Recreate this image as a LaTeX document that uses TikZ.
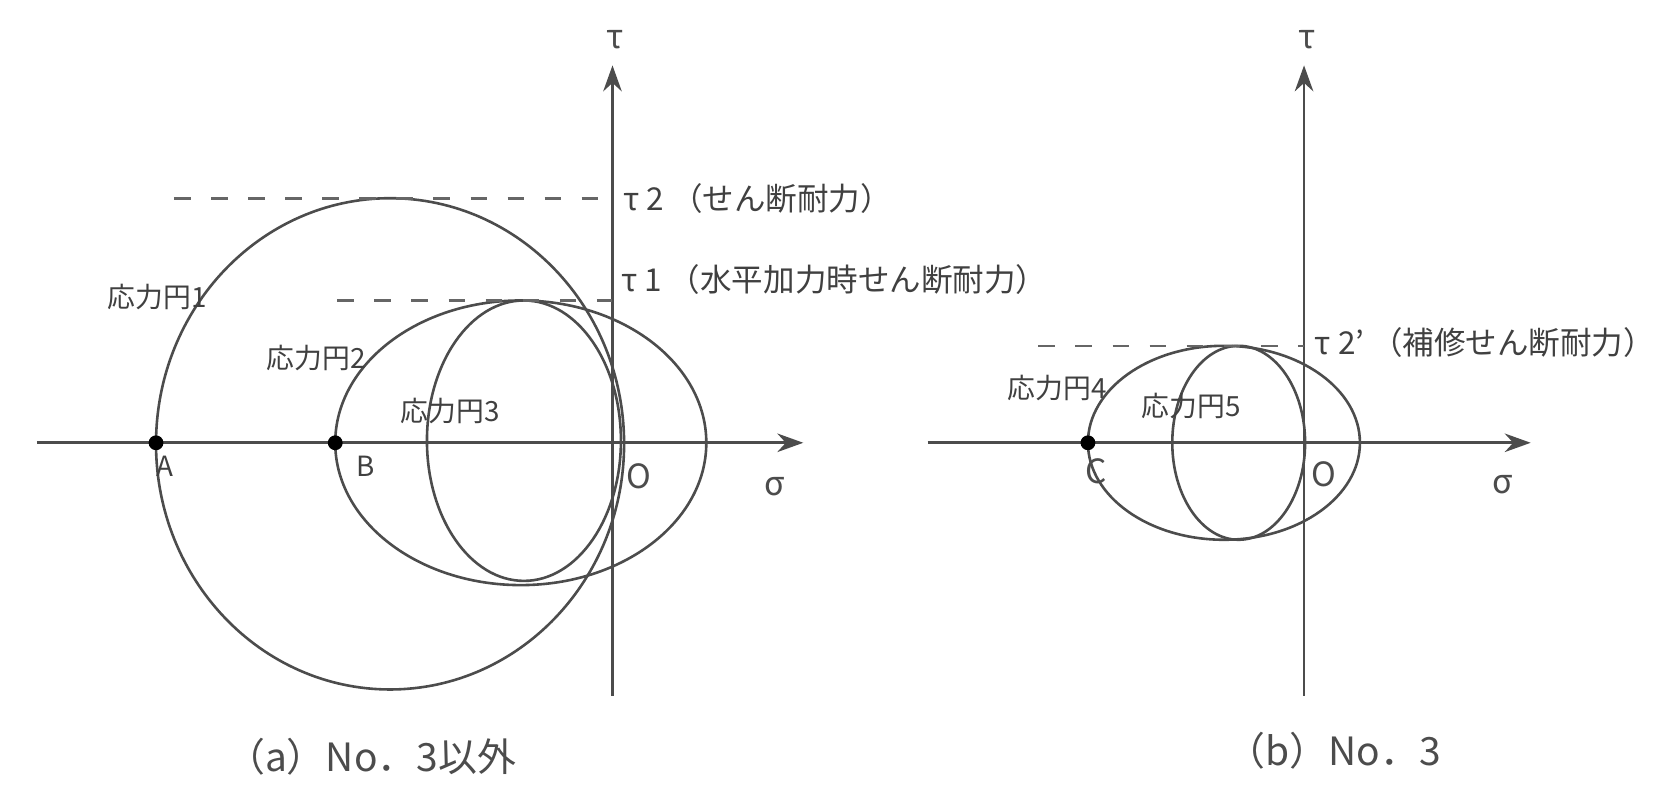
\documentclass[tikz,border=0pt]{standalone}
\usepackage{fontspec}
\setmainfont{Noto Sans CJK JP}
\usetikzlibrary{arrows.meta}
\begin{document}
\begin{tikzpicture}[x=0.01cm,y=-0.01cm, line width=0.7pt,
  axis/.style={draw=black!70, -{Stealth[length=7pt,width=5pt]}},
  circ/.style={draw=black!70},
  guide/.style={draw=black!60, dash pattern=on 4.5pt off 5.5pt},
  lbl/.style={font=\fontsize{7.5}{9}\selectfont, text=black!75, inner sep=0pt},
  taulbl/.style={font=\fontsize{8.5}{10}\selectfont, text=black!75, inner sep=0pt, anchor=west},
  axlbl/.style={font=\fontsize{9}{10}\selectfont, text=black!70, inner sep=0pt},
  captxt/.style={font=\fontsize{10.5}{12}\selectfont, text=black!70, inner sep=0pt},
  pt/.style={circle, fill=black, inner sep=0pt, minimum size=4pt}]
\useasboundingbox (0,0) rectangle (1568,756);
% ---------- panel (a) ----------
\coordinate (sigLA) at (35,420);
\coordinate (sigRA) at (762,420);
\coordinate (tauBotA) at (581,660);
\coordinate (tauTopA) at (581,62);
\draw[axis] (sigLA) -- (sigRA);
\draw[axis] (tauBotA) -- (tauTopA);
\node[axlbl] (tauA) at (583,38) {τ};
\node[axlbl] (sigA) at (735,462) {σ};
% circles
\draw[circ] (370,421) ellipse [x radius=222, y radius=233];
\draw[circ] (494,420) ellipse [x radius=176, y radius=135];
\draw[circ] (497,418) ellipse [x radius=92, y radius=133];
% shear levels
\coordinate (t2L) at (165,188);
\coordinate (t2R) at (581,188);
\coordinate (t1L) at (320,285);
\coordinate (t1R) at (581,285);
\draw[guide] (t2L) -- (t2R);
\draw[guide] (t1L) -- (t1R);
\node[taulbl] (t2lab) at (590,188) {τ 2 （せん断耐力）};
\node[taulbl] (t1lab) at (588,265) {τ 1 （水平加力時せん断耐力）};
\node[lbl] (c1lab) at (149,282) {応力円1};
\node[lbl] (c2lab) at (300,340) {応力円2};
\node[lbl] (c3lab) at (427,390) {応力円3};
\node[pt] (A) at (148,420) {};
\node[pt] (B) at (318,420) {};
\node[lbl] (Alab) at (156,442) {A};
\node[lbl] (Blab) at (347,442) {B};
\node[axlbl] (OlabA) at (606,452) {O};
\node[captxt] (capA) at (352,718) {（a）No．3以外};
% ---------- panel (b) ----------
\coordinate (sigLB) at (880,420);
\coordinate (sigRB) at (1452,420);
\coordinate (tauBotB) at (1237,660);
\coordinate (tauTopB) at (1237,62);
\draw[axis] (sigLB) -- (sigRB);
\draw[axis] (tauBotB) -- (tauTopB);
\node[axlbl] (tauB) at (1240,38) {τ};
\node[axlbl] (sigB) at (1425,460) {σ};
\draw[circ] (1161,420) ellipse [x radius=129, y radius=92];
\draw[circ] (1175,420) ellipse [x radius=63, y radius=92];
\coordinate (t2bL) at (985,328);
\coordinate (t2bR) at (1237,328);
\draw[guide] (t2bL) -- (t2bR);
\node[taulbl] (t2blab) at (1246,325) {τ 2’ （補修せん断耐力）};
\node[lbl] (c4lab) at (1003,368) {応力円4};
\node[lbl] (c5lab) at (1130,385) {応力円5};
\node[pt] (C) at (1032,420) {};
\node[axlbl] (Clab) at (1040,447) {C};
\node[axlbl] (OlabB) at (1256,450) {O};
\node[captxt] (capB) at (1265,712) {（b）No．3};
\end{tikzpicture}
\end{document}
